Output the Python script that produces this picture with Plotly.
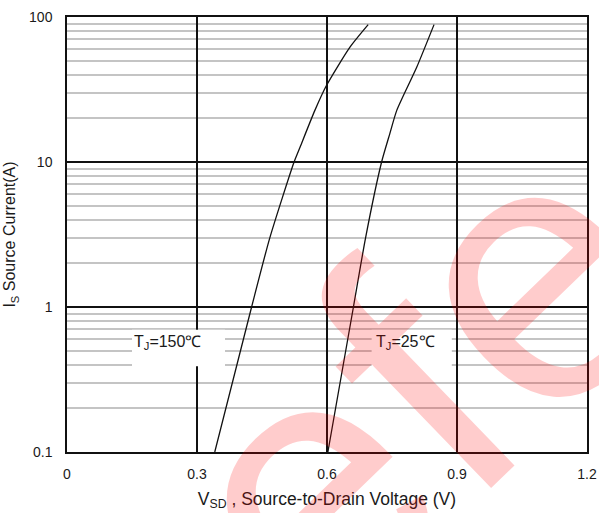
import plotly.graph_objects as go

# Data
vsd_150 = [0.341, 0.426, 0.468, 0.524, 0.538, 0.572, 0.599, 0.653, 0.695]
is_150 = [0.1, 1, 3.0, 10, 12.7, 22.7, 33.8, 62, 88.6]
vsd_25 = [0.602, 0.661, 0.689, 0.726, 0.745, 0.761, 0.807, 0.847]
is_25 = [0.1, 1, 3.0, 10, 15.7, 22.7, 45, 88.6]

x_ticks = [0, 0.3, 0.6, 0.9, 1.2]
x_ticktext = ["0", "0.3", "0.6", "0.9", "1.2"]
y_ticks = [0.1, 1, 10, 100]
y_ticktext = ["0.1", "1", "10", "100"]
y_minor = [m * d for d in (0.1, 1, 10) for m in range(2, 10)]

FONT = "Liberation Sans, Arial, sans-serif"
TXT = "#1a1a1a"

fig = go.Figure()
for xs, ys in ((vsd_150, is_150), (vsd_25, is_25)):
    fig.add_trace(go.Scatter(x=xs, y=ys, mode="lines",
                             line=dict(color="#111111", width=1.3, shape="spline", smoothing=0.6),
                             showlegend=False, hoverinfo="skip"))

# white label boxes that cut the grid
for x0, x1 in ((0.150, 0.3646), (0.703, 0.888)):
    fig.add_shape(type="rect", xref="x", yref="paper", x0=x0, x1=x1, y0=0.197, y1=0.281,
                  fillcolor="white", line=dict(width=0), layer="above")

fig.add_annotation(x=0.233, y=0.226, xref="x", yref="paper", showarrow=False,
                   text="T<sub>J</sub>=150℃", font=dict(family=FONT, size=16, color=TXT))
fig.add_annotation(x=0.780, y=0.226, xref="x", yref="paper", showarrow=False,
                   text="T<sub>J</sub>=25℃", font=dict(family=FONT, size=16, color=TXT))

# watermark
fig.add_annotation(x=0.67, y=0.16, xref="paper", yref="paper", showarrow=False,
                   xanchor="center", yanchor="middle",
                   text="efe", textangle=-44,
                   font=dict(family="Liberation Sans, Arial", size=370, color="rgba(255,0,0,0.2)"))

fig.update_layout(
    width=599, height=513,
    margin=dict(l=67, r=12, t=17, b=61, autoexpand=False),
    paper_bgcolor="white", plot_bgcolor="white",
    font=dict(family=FONT, size=14, color=TXT),
    xaxis=dict(range=[0, 1.2], tickvals=x_ticks, ticktext=x_ticktext,
               showgrid=True, gridcolor="#111111", gridwidth=1.5,
               showline=True, linecolor="#111111", linewidth=1.5, mirror=True,
               ticks="", ticklabelstandoff=8, zeroline=False,
               title=dict(text="V<sub>SD</sub> , Source-to-Drain Voltage (V)",
                          font=dict(size=17.5), standoff=12)),
    yaxis=dict(type="log", range=[-1, 2], tickvals=y_ticks, ticktext=y_ticktext,
               showgrid=True, gridcolor="#111111", gridwidth=1.5,
               showline=True, linecolor="#111111", linewidth=1.5, mirror=True,
               ticks="", ticklabelstandoff=10, zeroline=False,
               minor=dict(tickvals=y_minor, showgrid=True, gridcolor="#c4c4c4", gridwidth=1.5, ticks=""),
               title=dict(text="I<sub>S</sub> Source Current(A)", font=dict(size=16), standoff=9)),
)

fig.write_html("out.html")
